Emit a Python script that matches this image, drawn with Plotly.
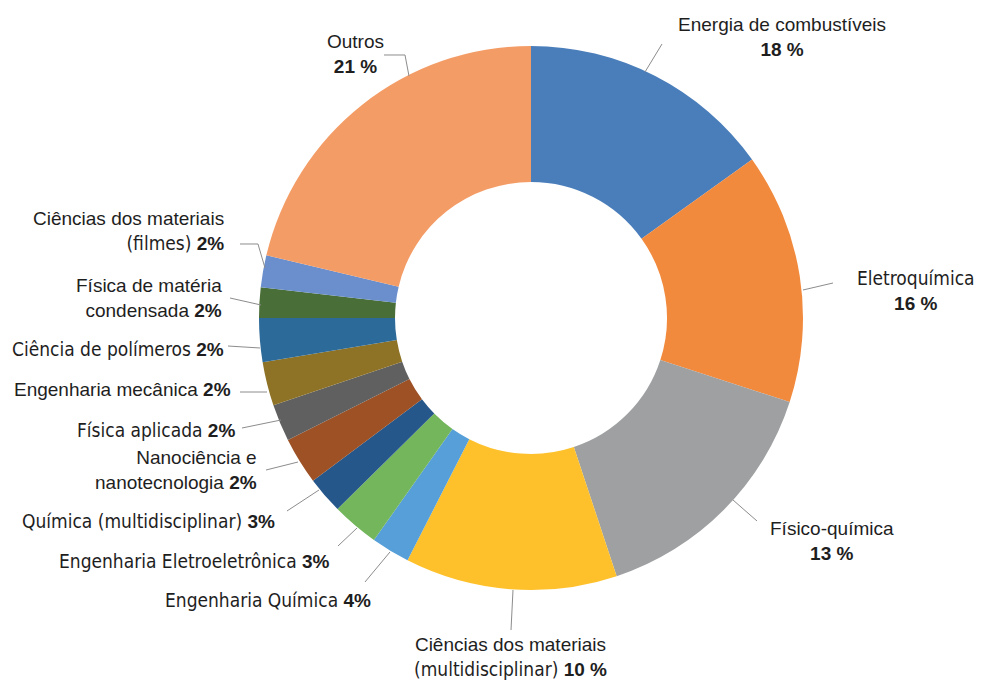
import plotly.graph_objects as go

W, H = 983, 680
OFF = 8  # page body margin of the exported html

areas = ["Energia de combustíveis", "Eletroquímica", "Físico-química",
         "Ciências dos materiais (multidisciplinar)", "Engenharia Química",
         "Engenharia Eletroeletrônica", "Química (multidisciplinar)",
         "Nanociência e nanotecnologia", "Física aplicada", "Engenharia mecânica",
         "Ciência de polímeros", "Física de matéria condensada",
         "Ciências dos materiais (filmes)", "Outros"]
shares = [18, 16, 13, 10, 4, 3, 3, 2, 2, 2, 2, 2, 2, 21]
values = [15.1, 14.9, 14.9, 12.6, 2.3, 2.8, 2.2, 2.8, 2.2, 2.6, 2.6, 1.8, 1.9, 21.3]

colors = ["#4A7EBB", "#F28A3E", "#9EA0A1", "#FEC12B", "#569FD8", "#74B65C", "#26578A",
          "#9D5125", "#606060", "#8E7327", "#2C6A9A", "#4A6E37", "#6A8FCC", "#F49C66"]

ARIAL = "Liberation Sans, Arial, sans-serif"
TAHOMA = "DejaVu Sans Condensed, Tahoma, sans-serif"
TXT = "#1e1e1e"
LINE = "#8c8c8c"

# label placement in pixels: x, y (middle), anchor, words on first line, fonts (line1, line2)
label_pos = [
    (782, 37, "center", 3, (ARIAL, ARIAL)),
    (916, 290, "center", 1, (TAHOMA, ARIAL)),
    (832, 541, "center", 1, (ARIAL, ARIAL)),
    (510, 657, "center", 3, (ARIAL, TAHOMA)),
    (373, 600, "right", None, (TAHOMA,)),
    (332, 561, "right", None, (TAHOMA,)),
    (277, 521, "right", None, (TAHOMA,)),
    (259, 470, "right", 2, (ARIAL, ARIAL)),
    (237, 430, "right", None, (TAHOMA,)),
    (233, 389, "right", None, (ARIAL,)),
    (226, 349, "right", None, (TAHOMA,)),
    (224, 298, "right", 3, (ARIAL, ARIAL)),
    (226, 231, "right", 3, (ARIAL, TAHOMA)),
    (355, 54, "center", 1, (ARIAL, ARIAL)),
]

# leader lines (pixel polylines from label to ring)
leaders = [
    [(662, 44), (645, 72)],
    [(833, 283), (803, 290)],
    [(757, 521), (733, 500)],
    [(511, 630), (513, 590)],
    [(365, 582), (390, 552)],
    [(338, 546), (357, 528)],
    [(287, 511), (319, 490)],
    [(266, 470), (298, 462)],
    [(242, 428), (281, 420)],
    [(240, 392), (267, 392)],
    [(228, 346), (260, 348)],
    [(230, 298), (261, 305)],
    [(240, 244), (258, 244), (265, 268)],
    [(384, 55), (405, 55), (409, 76)],
]

FW, FH = W - OFF, H - OFF


def px(x, y):
    return (x - OFF) / FW, 1 - (y - OFF) / FH


def fmt_pct(v):
    return f"{v} %" if v >= 10 else f"{v}%"


def span(text, family):
    return f"<span style='font-family:{family}'>{text}</span>"


x0, y0 = px(259, 590)
x1, y1 = px(803, 46)
fig = go.Figure(go.Pie(
    labels=areas, values=values, customdata=shares,
    sort=False, direction="clockwise", rotation=0, hole=0.5,
    marker=dict(colors=colors, line=dict(width=0)),
    textinfo="none",
    hovertemplate="%{label}<br>%{customdata}%<extra></extra>",
    domain=dict(x=[x0, x1], y=[y0, y1]),
))

for name, share, (x, y, anchor, k, fonts) in zip(areas, shares, label_pos):
    words = name.split(" ")
    pct = f"<b>{fmt_pct(share)}</b>"
    if k is None:
        text = span(name, fonts[0]) + " " + pct
    elif k == len(words):
        text = span(name, fonts[0]) + "<br>" + pct
    else:
        text = (span(" ".join(words[:k]), fonts[0]) + "<br>"
                + span(" ".join(words[k:]), fonts[1]) + " " + pct)
    ax, ay = px(x, y)
    fig.add_annotation(x=ax, y=ay, xref="paper", yref="paper", text=text,
                       showarrow=False, xanchor=anchor, yanchor="middle",
                       align=anchor, font=dict(family=ARIAL, size=19, color=TXT))

for pts in leaders:
    path = "M " + " L ".join(f"{px(x, y)[0]:.5f},{px(x, y)[1]:.5f}" for x, y in pts)
    fig.add_shape(type="path", path=path, xref="paper", yref="paper",
                  line=dict(color=LINE, width=1))

fig.update_layout(
    width=FW, height=FH,
    margin=dict(l=0, r=0, t=0, b=0),
    paper_bgcolor="white", plot_bgcolor="white",
    showlegend=False,
    font=dict(family=ARIAL, color=TXT),
)

fig.write_html("out.html")
